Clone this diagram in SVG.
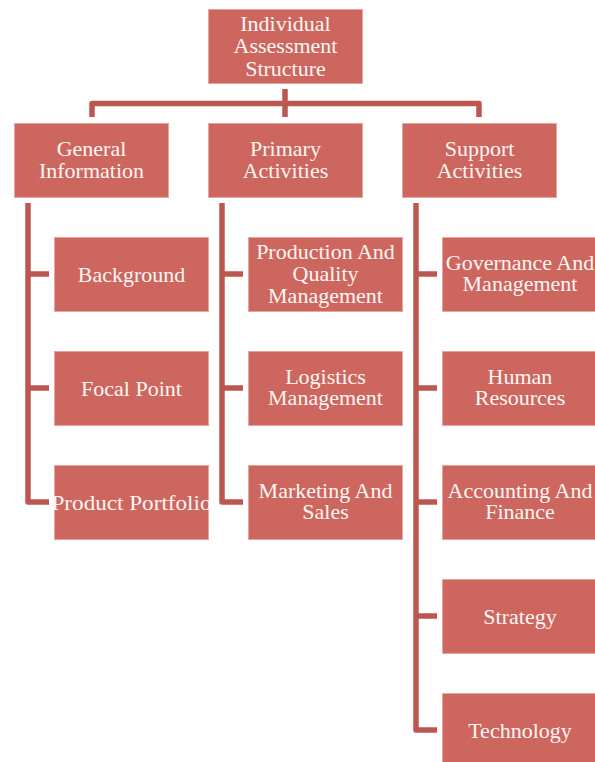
<svg xmlns="http://www.w3.org/2000/svg" width="595" height="762" viewBox="0 0 595 762">
  <style>
    .box { fill: #CD665F; stroke: #E8A59F; stroke-width: 1; }
    .lbl { font-family: "Liberation Serif", "Times New Roman", serif; font-size: 22px; fill: #FFF6F2; text-anchor: middle; }
    .link { fill: none; stroke: #BC5651; stroke-width: 5.5; stroke-linejoin: round; stroke-linecap: butt; }
  </style>
  <defs>
    <clipPath id="clip-portfolio"><rect x="54" y="465" width="155" height="74"/></clipPath>
  </defs>
  <rect width="595" height="762" fill="#FFFFFF"/>

  <!-- connectors -->
  <g id="connectors">
    <path class="link" d="M285,89 V117"/>
    <path class="link" d="M92,117 V103.5 H479 V117"/>
    <path class="link" d="M28,203 V502 H49"/>
    <path class="link" d="M28,274 H49 M28,388 H49"/>
    <path class="link" d="M222,203 V502 H243"/>
    <path class="link" d="M222,274 H243 M222,388 H243"/>
    <path class="link" d="M416,203 V730 H437"/>
    <path class="link" d="M416,274 H437 M416,388 H437 M416,502 H437 M416,616 H437"/>
  </g>

  <!-- root -->
  <g id="root">
    <rect class="box" x="208.5" y="9.5" width="154" height="74"/>
    <text class="lbl" x="285.5" y="30.5">Individual</text>
    <text class="lbl" x="285.5" y="53">Assessment</text>
    <text class="lbl" x="285.5" y="75.5">Structure</text>
  </g>

  <!-- second level -->
  <g id="general-information">
    <rect class="box" x="14.5" y="123.5" width="154" height="74"/>
    <text class="lbl" x="91.5" y="155.5">General</text>
    <text class="lbl" x="91.5" y="177.5">Information</text>
  </g>
  <g id="primary-activities">
    <rect class="box" x="208.5" y="123.5" width="154" height="74"/>
    <text class="lbl" x="285.5" y="155.5">Primary</text>
    <text class="lbl" x="285.5" y="177.5">Activities</text>
  </g>
  <g id="support-activities">
    <rect class="box" x="402.5" y="123.5" width="154" height="74"/>
    <text class="lbl" x="479.5" y="155.5">Support</text>
    <text class="lbl" x="479.5" y="177.5">Activities</text>
  </g>

  <!-- general information children -->
  <g id="background">
    <rect class="box" x="54.5" y="237.5" width="154" height="74"/>
    <text class="lbl" x="131.5" y="281.5">Background</text>
  </g>
  <g id="focal-point">
    <rect class="box" x="54.5" y="351.5" width="154" height="74"/>
    <text class="lbl" x="131.5" y="395.5">Focal Point</text>
  </g>
  <g id="product-portfolio">
    <rect class="box" x="54.5" y="465.5" width="154" height="74"/>
    <text class="lbl" x="131.5" y="509.5" textLength="160" lengthAdjust="spacingAndGlyphs" clip-path="url(#clip-portfolio)">Product Portfolio</text>
  </g>

  <!-- primary activities children -->
  <g id="production-quality">
    <rect class="box" x="248.5" y="237.5" width="154" height="74"/>
    <text class="lbl" x="325.5" y="259">Production And</text>
    <text class="lbl" x="325.5" y="280.5">Quality</text>
    <text class="lbl" x="325.5" y="302.5">Management</text>
  </g>
  <g id="logistics">
    <rect class="box" x="248.5" y="351.5" width="154" height="74"/>
    <text class="lbl" x="325.5" y="383.5">Logistics</text>
    <text class="lbl" x="325.5" y="404.5">Management</text>
  </g>
  <g id="marketing-sales">
    <rect class="box" x="248.5" y="465.5" width="154" height="74"/>
    <text class="lbl" x="325.5" y="497.5">Marketing And</text>
    <text class="lbl" x="325.5" y="518.5">Sales</text>
  </g>

  <!-- support activities children -->
  <g id="governance">
    <rect class="box" x="442.5" y="237.5" width="155" height="74"/>
    <text class="lbl" x="520" y="270">Governance And</text>
    <text class="lbl" x="520" y="291">Management</text>
  </g>
  <g id="human-resources">
    <rect class="box" x="442.5" y="351.5" width="155" height="74"/>
    <text class="lbl" x="520" y="383.5">Human</text>
    <text class="lbl" x="520" y="404.5">Resources</text>
  </g>
  <g id="accounting-finance">
    <rect class="box" x="442.5" y="465.5" width="155" height="74"/>
    <text class="lbl" x="520" y="497.5">Accounting And</text>
    <text class="lbl" x="520" y="518.5">Finance</text>
  </g>
  <g id="strategy">
    <rect class="box" x="442.5" y="579.5" width="155" height="74"/>
    <text class="lbl" x="520" y="623.5">Strategy</text>
  </g>
  <g id="technology">
    <rect class="box" x="442.5" y="693.5" width="155" height="74"/>
    <text class="lbl" x="520" y="737.5">Technology</text>
  </g>
</svg>
